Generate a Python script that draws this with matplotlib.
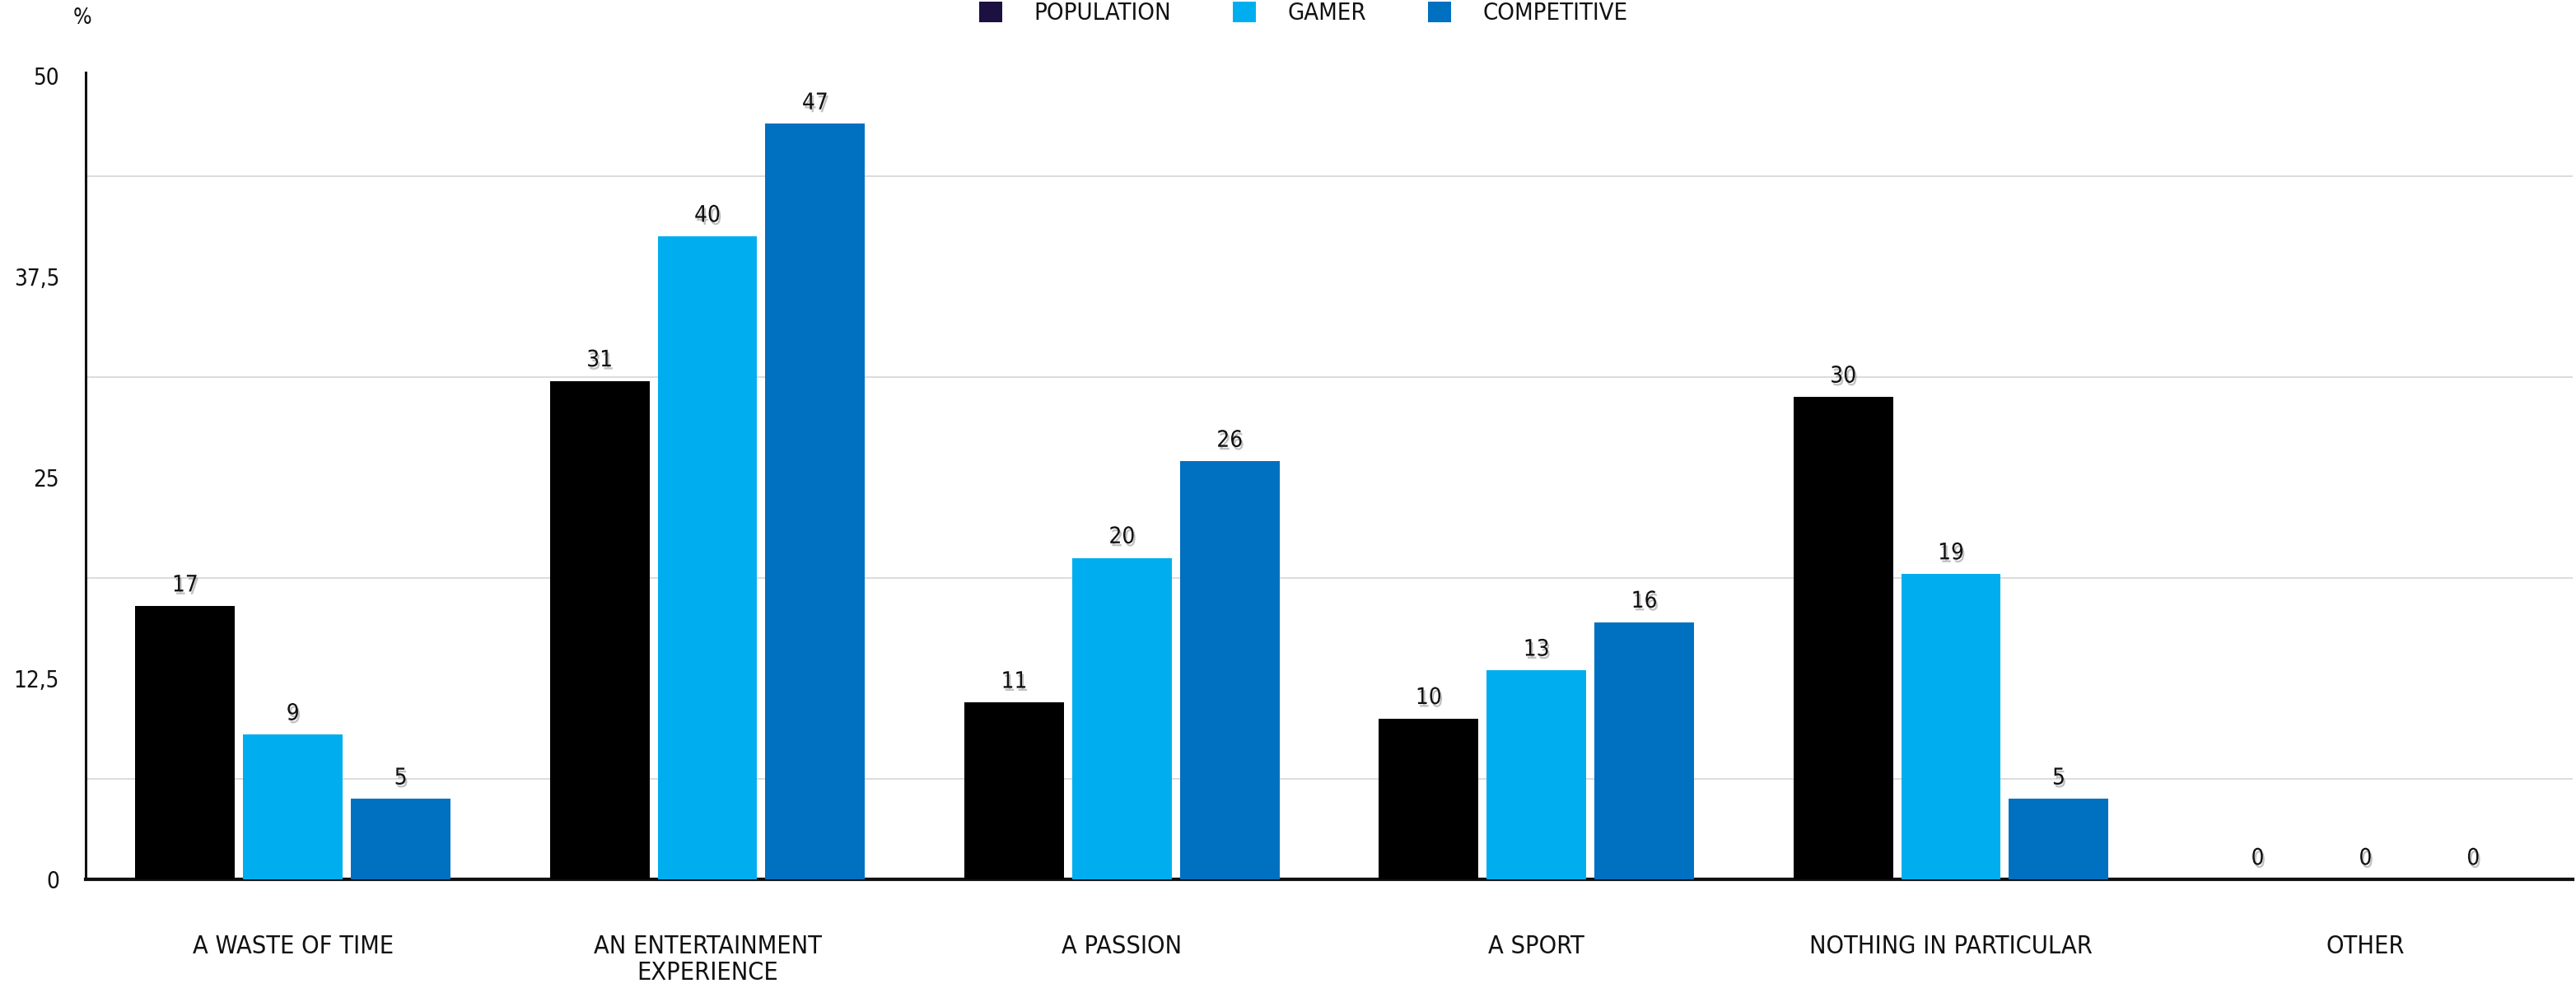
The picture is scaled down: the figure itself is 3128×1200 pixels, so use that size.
import matplotlib
matplotlib.use('Agg')
import matplotlib.pyplot as plt
import matplotlib.patheffects as pe
from matplotlib.patches import Patch
import numpy as np

plt.rcParams['font.family'] = ['DejaVu Sans']
plt.rcParams['font.stretch'] = 'condensed'

categories = ['A WASTE OF TIME', 'AN ENTERTAINMENT\nEXPERIENCE', 'A PASSION',
              'A SPORT', 'NOTHING IN PARTICULAR', 'OTHER']
series_names = ['POPULATION', 'GAMER', 'COMPETITIVE']
population = [17, 31, 11, 10, 30, 0]
gamer = [9, 40, 20, 13, 19, 0]
competitive = [5, 47, 26, 16, 5, 0]
y_ticks = [0, 12.5, 25, 37.5, 50]
y_tick_labels = ['0', '12,5', '25', '37,5', '50']

colors = ['#000000', '#00AEEF', '#0070C0']
legend_colors = ['#1B1040', '#00AEEF', '#0070C0']

fig = plt.figure(figsize=(31.28, 12), dpi=100)
ax = fig.add_axes([104 / 3128, 1 - 1068 / 1200, 3020 / 3128, 980 / 1200])

x = np.arange(len(categories))
width = 0.24
step = 0.26
shadow = [pe.SimplePatchShadow(offset=(1.5, -2.5), shadow_rgbFace='#777777', alpha=0.45),
          pe.Normal()]

for i, vals in enumerate([population, gamer, competitive]):
    pos = x + (i - 1) * step
    bars = ax.bar(pos, vals, width=width, color=colors[i], zorder=3)
    for rect, v in zip(bars, vals):
        ax.text(rect.get_x() + rect.get_width() / 2, v + 0.6, str(v),
                ha='center', va='bottom', fontsize=20, color='#111111',
                path_effects=shadow, zorder=4)

ax.set_xlim(-0.5, len(categories) - 0.5)
ax.set_ylim(0, 50.2)
ax.set_yticks(y_ticks)
ax.set_yticklabels(y_tick_labels, fontsize=20, color='#111111')
ax.tick_params(axis='y', length=0, pad=23)
ax.set_xticks(x)
ax.set_xticklabels(categories, fontsize=22, color='#111111', linespacing=1.15)
ax.tick_params(axis='x', length=0, pad=48)

# gridlines sit halfway between the tick labels
for g in [6.25, 18.75, 31.25, 43.75]:
    ax.axhline(g, color='#d6d6d6', linewidth=1.2, zorder=1)

for s in ['top', 'right']:
    ax.spines[s].set_visible(False)
ax.spines['left'].set_linewidth(2.2)
ax.spines['bottom'].set_linewidth(3)
ax.spines['left'].set_color('#111111')
ax.spines['bottom'].set_color('#111111')

fig.text(100 / 3128, 1 - 22 / 1200, '%', fontsize=19, ha='center', va='center', color='#111111')

handles = [Patch(facecolor=c) for c in legend_colors]
fig.legend(handles, series_names, loc='center', bbox_to_anchor=(0.506, 1 - 16 / 1200),
           ncol=3, frameon=False, fontsize=21, handlelength=0.95, handleheight=0.95,
           handletextpad=1.3, columnspacing=2.6, labelcolor='#111111')

fig.savefig('out.png', dpi=100)
